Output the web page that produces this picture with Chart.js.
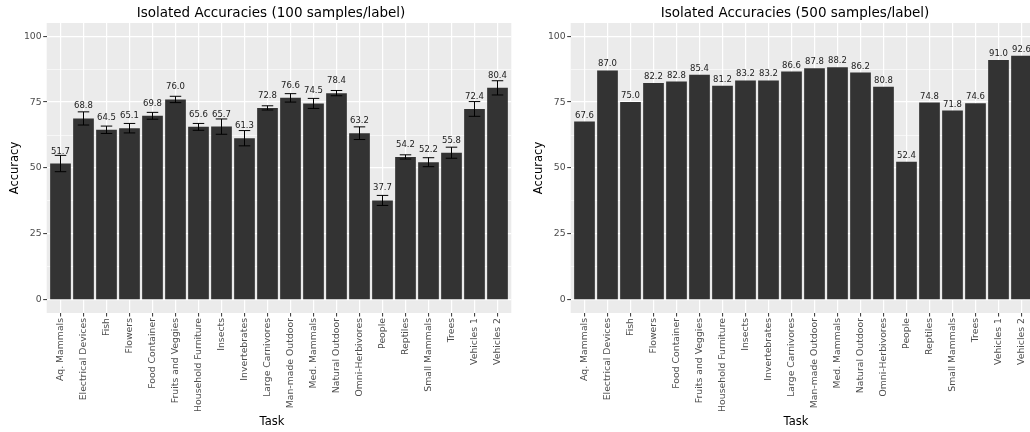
<!DOCTYPE html>
<html lang="en">
<head>
  <meta charset="UTF-8" />
  <title>Isolated Accuracies</title>
  <script src="https://cdn.jsdelivr.net/npm/chart.js"></script>
  <style>
    html, body { margin: 0; padding: 0; background: #ffffff; overflow: hidden; }
    .wrap { position: relative; width: 1030px; height: 432px; overflow: hidden; }
    canvas { position: absolute; top: 0; }
    #left { left: 0; }
    #right { left: 515px; }
  </style>
</head>
<body>
  <div class="wrap">
    <canvas id="left" width="520" height="432"></canvas>
    <canvas id="right" width="525" height="432"></canvas>
  </div>

  <script>
    const tasks = ['Aq. Mammals', 'Electrical Devices', 'Fish', 'Flowers', 'Food Container',
      'Fruits and Veggies', 'Household Furniture', 'Insects', 'Invertebrates', 'Large Carnivores',
      'Man-made Outdoor', 'Med. Mammals', 'Natural Outdoor', 'Omni-Herbivores', 'People',
      'Reptiles', 'Small Mammals', 'Trees', 'Vehicles 1', 'Vehicles 2'];

    // 100 samples/label: mean accuracy and half-width of the error bar
    const acc100 = [51.7, 68.8, 64.5, 65.1, 69.8, 76.0, 65.6, 65.7, 61.3, 72.8,
      76.6, 74.5, 78.4, 63.2, 37.7, 54.2, 52.2, 55.8, 72.4, 80.4];
    const err100 = [3.1, 2.5, 1.4, 1.8, 1.3, 1.2, 1.3, 2.9, 2.9, 0.8,
      1.6, 1.9, 1.0, 2.4, 1.9, 0.8, 1.7, 2.1, 2.8, 2.7];

    // 500 samples/label
    const acc500 = [67.6, 87.0, 75.0, 82.2, 82.8, 85.4, 81.2, 83.2, 83.2, 86.6,
      87.8, 88.2, 86.2, 80.8, 52.4, 74.8, 71.8, 74.6, 91.0, 92.6];

    const yMajor = [0, 25, 50, 75, 100];
    const yMinor = [12.5, 37.5, 62.5, 87.5];

    const FAMILY = "'DejaVu Sans', sans-serif";

    // ggplot-ish panel: grey background, error bars, value labels, titles
    const ggPanel = {
      id: 'ggPanel',
      beforeDraw(chart) {
        const a = chart.chartArea, ctx = chart.ctx;
        ctx.save();
        ctx.fillStyle = '#ebebeb';
        ctx.fillRect(a.left, a.top, a.right - a.left, a.bottom - a.top);
        ctx.restore();
      },
      afterDatasetsDraw(chart) {
        const ctx = chart.ctx;
        const x = chart.scales.x, y = chart.scales.y;
        const ds = chart.data.datasets[0];
        ctx.save();
        if (ds.errors) {
          ctx.strokeStyle = '#000000';
          ctx.lineWidth = 1;
          ds.data.forEach((d, i) => {
            const cx = x.getPixelForValue(d.x);
            const hw = x.getPixelForValue(d.x + 0.25) - cx;
            const top = y.getPixelForValue(d.y + ds.errors[i]);
            const bot = y.getPixelForValue(d.y - ds.errors[i]);
            ctx.beginPath();
            ctx.moveTo(cx - hw, top); ctx.lineTo(cx + hw, top);
            ctx.moveTo(cx, top); ctx.lineTo(cx, bot);
            ctx.moveTo(cx - hw, bot); ctx.lineTo(cx + hw, bot);
            ctx.stroke();
          });
        }
        ctx.fillStyle = '#1a1a1a';
        ctx.font = '8.5px ' + FAMILY;
        ctx.textAlign = 'center';
        ctx.textBaseline = 'alphabetic';
        ds.data.forEach(d => {
          ctx.fillText(d.y.toFixed(1), x.getPixelForValue(d.x), y.getPixelForValue(d.y) - ds.labelGap);
        });
        ctx.restore();
      },
      afterDraw(chart) {
        const a = chart.chartArea, ctx = chart.ctx;
        const ds = chart.data.datasets[0];
        const cx = (a.left + a.right) / 2;
        ctx.save();
        ctx.fillStyle = '#000000';
        ctx.textAlign = 'center';
        ctx.textBaseline = 'alphabetic';
        ctx.font = '13.5px ' + FAMILY;
        ctx.fillText(ds.title, cx - 8, 16.5);
        ctx.font = '11.5px ' + FAMILY;
        ctx.fillText('Task', cx - 7, 425);
        ctx.translate(a.left - 29, (a.top + a.bottom) / 2);
        ctx.rotate(-Math.PI / 2);
        ctx.fillText('Accuracy', 0, 0);
        ctx.restore();
      }
    };

    function makeChart(id, title, values, errors, labelGap, yWidth, rightPad) {
      return new Chart(document.getElementById(id).getContext('2d'), {
        type: 'bar',
        data: {
          datasets: [{
            title: title,
            errors: errors,
            labelGap: labelGap,
            data: values.map((v, i) => ({ x: i, y: v })),
            backgroundColor: '#333333',
            borderWidth: 0,
            barPercentage: 0.9,
            categoryPercentage: 1
          }]
        },
        options: {
          responsive: false,
          animation: false,
          devicePixelRatio: 1,
          layout: { padding: { top: 23, right: rightPad, bottom: 0, left: 0 } },
          plugins: { legend: { display: false }, tooltip: { enabled: false }, title: { display: false } },
          scales: {
            x: {
              type: 'linear',
              min: -0.6,
              max: 19.6,
              offset: false,
              afterBuildTicks: s => { s.ticks = tasks.map((t, i) => ({ value: i })); },
              afterFit: s => { s.height = 119; },
              ticks: {
                autoSkip: false,
                minRotation: 90,
                maxRotation: 90,
                padding: 1.5,
                color: '#4d4d4d',
                font: { family: FAMILY, size: 9.3 },
                callback: (v, i) => tasks[i]
              },
              grid: { offset: false, color: '#ffffff', lineWidth: 1.2, tickColor: '#333333', tickLength: 3.5, tickWidth: 1 },
              border: { display: false }
            },
            y: {
              min: -5,
              max: 105,
              afterBuildTicks: s => {
                s.ticks = yMajor.concat(yMinor).sort((p, q) => p - q).map(v => ({ value: v }));
              },
              afterFit: s => { s.width = yWidth; },
              ticks: {
                padding: 1.5,
                color: '#4d4d4d',
                font: { family: FAMILY, size: 9.3 },
                callback: v => (yMajor.includes(v) ? String(v) : '')
              },
              grid: {
                color: '#ffffff',
                lineWidth: c => (c.tick && yMajor.includes(c.tick.value) ? 1.2 : 0.6),
                tickColor: c => (c.tick && yMajor.includes(c.tick.value) ? '#333333' : 'rgba(0,0,0,0)'),
                tickLength: 3.5,
                tickWidth: 1
              },
              border: { display: false }
            }
          }
        },
        plugins: [ggPanel]
      });
    }

    makeChart('left', 'Isolated Accuracies (100 samples/label)', acc100, err100, 10, 46.7, 8.7);
    makeChart('right', 'Isolated Accuracies (500 samples/label)', acc500, null, 4, 55.7, 4.7);
  </script>
</body>
</html>
